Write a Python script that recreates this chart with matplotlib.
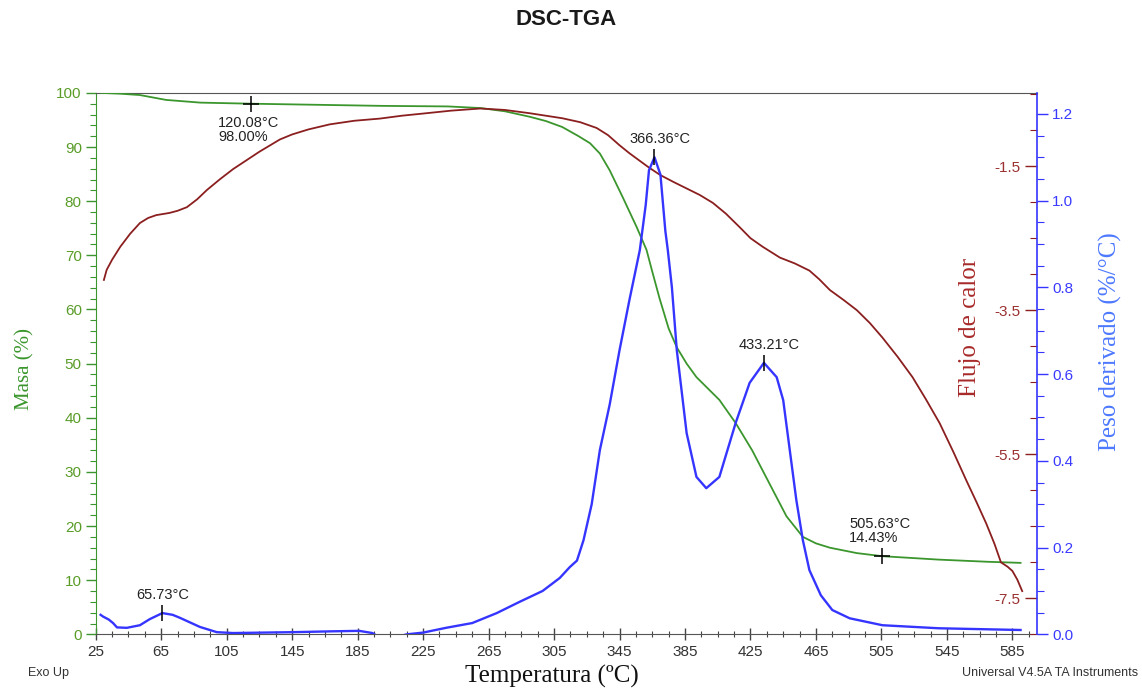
import numpy as np
import matplotlib
matplotlib.use("Agg")
import matplotlib.pyplot as plt
from matplotlib.ticker import FixedLocator, MultipleLocator, FormatStrFormatter

###############################################################################
# data
###############################################################################
# mass (TGA), %
temp_mass = [28, 40, 52, 68, 89, 120.08, 160, 200, 240, 260,
             275, 290, 300, 310, 320, 327, 333, 339, 347, 355.5,
             361.5, 365, 369.5, 375, 380, 386, 392, 406, 416, 426,
             436.5, 447, 457, 465, 473.5, 490, 505.63, 540, 570, 590]
mass = [100, 99.85, 99.6, 98.7, 98.2, 98.0, 97.8, 97.6, 97.5, 97.2,
        96.6, 95.6, 94.8, 93.7, 92.0, 90.7, 88.8, 85.7, 80.7, 75.2,
        71.0, 67.0, 62.0, 56.5, 53.0, 50.0, 47.5, 43.3, 39.0, 34.0,
        27.9, 21.8, 18.0, 16.8, 16.0, 15.0, 14.43, 13.8, 13.4, 13.2]

# heat flow (DSC)
temp_heat = [30, 31.7, 35, 40, 46, 52, 57, 62, 70, 75,
             80.7, 87, 93, 101, 109, 117, 125, 137.5, 145, 155,
             168, 183, 198.6, 212, 225, 242, 260, 275, 290, 300,
             310, 321, 331, 338, 345, 351, 357, 363, 370, 378,
             386, 394, 402, 410, 418.5, 425, 432.5, 443, 452, 461,
             467, 473.5, 482, 490, 498, 505.6, 515, 524, 532, 540.6,
             549, 557, 563, 569, 574, 578, 582, 585, 588, 591]
heat = [-3.08, -2.94, -2.80, -2.62, -2.44, -2.29, -2.22, -2.18, -2.15, -2.12,
        -2.07, -1.96, -1.83, -1.68, -1.54, -1.42, -1.30, -1.13, -1.06, -0.99,
        -0.92, -0.87, -0.84, -0.80, -0.77, -0.73, -0.70, -0.72, -0.765, -0.80,
        -0.835, -0.89, -0.97, -1.07, -1.21, -1.32, -1.42, -1.52, -1.625, -1.72,
        -1.81, -1.90, -2.01, -2.16, -2.35, -2.50, -2.62, -2.77, -2.85, -2.95,
        -3.07, -3.22, -3.36, -3.50, -3.68, -3.88, -4.15, -4.43, -4.73, -5.07,
        -5.47, -5.87, -6.16, -6.46, -6.74, -7.00, -7.06, -7.12, -7.24, -7.40]

# derivative weight, %/°C
temp_deriv = [28, 29.5, 33, 35.6, 38, 44, 52, 58, 65.73, 72,
              76.5, 88.7, 99, 109, 145.6, 170, 186, 194, 197, 205,
              212, 215, 225, 239, 255, 270, 284, 298, 308.5, 314.6,
              319, 323, 328, 333, 339, 345, 351, 357.4, 361, 363,
              366.36, 370, 373, 374.5, 377, 380, 386, 392, 398, 406,
              416, 424.5, 433.21, 441, 445, 449, 453, 457, 461, 468,
              475, 485.6, 505.6, 540, 590]
deriv = [0.045, 0.041, 0.034, 0.026, 0.016, 0.015, 0.021, 0.035, 0.049, 0.045,
         0.038, 0.017, 0.005, 0.003, 0.005, 0.007, 0.008, 0.003, -0.004, -0.006,
         -0.003, 0.0, 0.004, 0.015, 0.026, 0.049, 0.075, 0.10, 0.13, 0.155,
         0.17, 0.217, 0.30, 0.425, 0.53, 0.655, 0.77, 0.886, 0.99, 1.07,
         1.10, 1.06, 0.93, 0.886, 0.80, 0.655, 0.464, 0.363, 0.337, 0.363,
         0.488, 0.58, 0.626, 0.593, 0.54, 0.425, 0.31, 0.217, 0.148, 0.09,
         0.056, 0.037, 0.021, 0.014, 0.01]

# labelled points
mass_marks = [(120.08, 98.00), (505.63, 14.43)]
peak_marks = [(65.73, 0.049), (366.36, 1.10), (433.21, 0.626)]

###############################################################################
green_line = "#3b962d"
green_txt = "#5a9c28"
red_line = "#8b1f1f"
red_txt = "#9a3030"
blue_line = "#3535ff"
blue_txt = "#3a3aff"
blue_lab = "#4d79ff"

sans = "Liberation Sans"
serif = "Liberation Serif"
plt.rcParams["font.family"] = [sans, "DejaVu Sans"]

fig = plt.figure(figsize=(11.42, 6.88), dpi=100)
ax = fig.add_axes([0.0838, 0.078, 0.8242, 0.787])
ax_r = ax.twinx()   # heat flow
ax_b = ax.twinx()   # derivative weight

# mass
ax.plot(temp_mass, mass, color=green_line, lw=1.3, zorder=3)
ax.set_xlim(25, 600)
ax.set_ylim(0, 100)
ax.xaxis.set_major_locator(FixedLocator(np.arange(25, 600, 40)))
ax.xaxis.set_minor_locator(FixedLocator(np.arange(25, 600, 10)))
ax.yaxis.set_major_locator(MultipleLocator(10))
ax.yaxis.set_minor_locator(MultipleLocator(2))
ax.tick_params(axis="x", which="major", direction="inout", length=9, width=1,
               color="#444444", labelsize=11, labelcolor="#333333", pad=3)
ax.tick_params(axis="x", which="minor", direction="inout", length=5, width=0.8,
               color="#444444")
ax.tick_params(axis="y", which="major", direction="out", length=7, width=1,
               color=green_line, labelsize=11, labelcolor=green_txt, pad=3)
ax.tick_params(axis="y", which="minor", direction="out", length=4, width=0.8,
               color=green_line)
ax.spines["left"].set_color(green_line)
ax.spines["bottom"].set_color("#555555")
ax.spines["top"].set_color("#555555")
ax.spines["right"].set_visible(False)

for xm, ym in mass_marks:
    ax.plot(xm, ym, marker="+", ms=12, mew=1.1, color="black", zorder=5)
ax.annotate("120.08°C\n98.00%", xy=mass_marks[0], xytext=(-24, -9),
            textcoords="offset points", ha="left", va="top", fontsize=10.5,
            color="#222222", linespacing=1.0)
ax.annotate("505.63°C\n14.43%", xy=mass_marks[1], xytext=(-24, 8),
            textcoords="offset points", ha="left", va="bottom", fontsize=10.5,
            color="#222222", linespacing=1.0)

# heat flow
ax_r.plot(temp_heat, heat, color=red_line, lw=1.3, zorder=3)
ax_r.set_ylim(-8.0, -0.483)
ax_r.yaxis.tick_left()
ax_r.spines["left"].set_position(("axes", 1.0))
for s in ax_r.spines.values():
    s.set_visible(False)
ax_r.yaxis.set_major_locator(FixedLocator([-1.5, -3.5, -5.5, -7.5]))
ax_r.yaxis.set_minor_locator(MultipleLocator(0.5))
ax_r.yaxis.set_major_formatter(FormatStrFormatter("%.1f"))
ax_r.tick_params(axis="y", which="major", direction="out", length=9, width=1,
                 color=red_line, labelsize=11, labelcolor=red_txt, pad=3)
ax_r.tick_params(axis="y", which="minor", direction="out", length=5, width=0.8,
                 color=red_line)

# derivative weight
ax_b.plot(temp_deriv, deriv, color=blue_line, lw=1.7, zorder=4)
ax_b.set_ylim(0, 1.2485)
ax_b.yaxis.set_major_locator(MultipleLocator(0.2))
ax_b.yaxis.set_minor_locator(MultipleLocator(0.05))
ax_b.yaxis.set_major_formatter(FormatStrFormatter("%.1f"))
ax_b.tick_params(axis="y", which="major", direction="out", length=8, width=1,
                 color=blue_line, labelsize=11, labelcolor=blue_txt, pad=3)
ax_b.tick_params(axis="y", which="minor", direction="out", length=5, width=0.8,
                 color=blue_line)
for name in ["left", "top", "bottom"]:
    ax_b.spines[name].set_visible(False)
ax_b.spines["right"].set_color(blue_line)
ax_b.spines["right"].set_linewidth(1.2)

for xp, yp in peak_marks:
    ax_b.plot(xp, yp, marker="|", ms=11, mew=1.1, color="black", zorder=5)
    ax_b.annotate(f"{xp:.2f}°C", xy=(xp, yp), xytext=(4 if xp > 300 else 0, 8),
                  textcoords="offset points", ha="center", va="bottom",
                  fontsize=10.5, color="#222222")

# axis titles
ax.text(-0.075, 0.49, "Masa (%)", transform=ax.transAxes, rotation=90,
        ha="center", va="center", fontsize=15, color=green_line, family=serif)
ax.text(0.929, 0.567, "Flujo de calor", transform=ax.transAxes, rotation=90,
        ha="center", va="center", fontsize=18, color="#a82a2a", family=serif)
ax.text(1.0776, 0.541, "Peso derivado (%/°C)", transform=ax.transAxes,
        rotation=90, ha="center", va="center", fontsize=18, color=blue_lab,
        family=serif)
ax.text(0.485, -0.077, "Temperatura (ºC)", transform=ax.transAxes,
        ha="center", va="center", fontsize=18, color="#111111", family=serif)

fig.text(0.4956, 0.971, "DSC-TGA", ha="center", va="center", fontsize=16,
         fontweight="bold", color="#1a1a1a")
fig.text(0.0245, 0.022, "Exo Up", ha="left", va="center", fontsize=9,
         color="#333333")
fig.text(0.9965, 0.022, "Universal V4.5A TA Instruments", ha="right",
         va="center", fontsize=9, color="#333333")

fig.savefig("out.png", dpi=100)
